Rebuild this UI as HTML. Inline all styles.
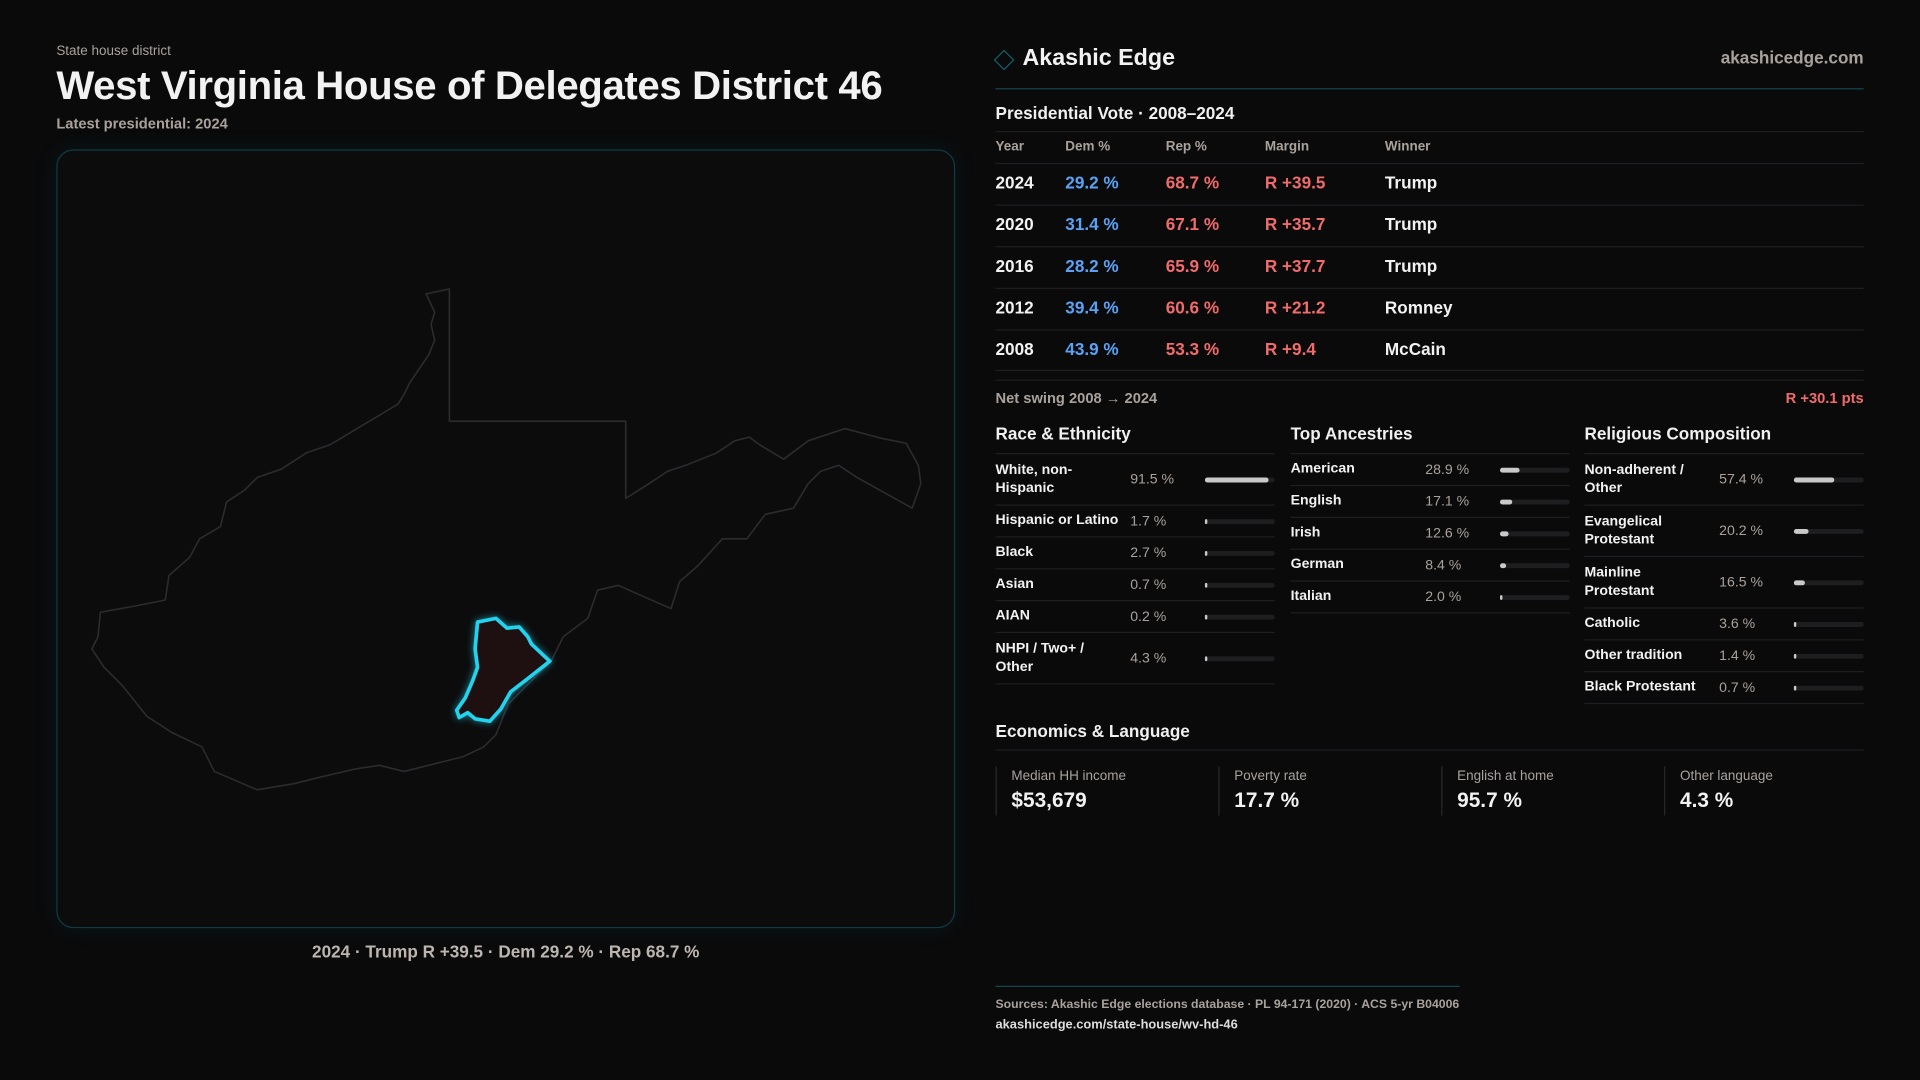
<!DOCTYPE html>
<html><head><meta charset="utf-8"><style>
html,body{margin:0;padding:0;background:#0a0a0b;overflow:hidden}
#root{position:absolute;left:0;top:0;width:1568px;height:882px;transform:scale(1.2244898);transform-origin:0 0;font-family:"Liberation Sans",sans-serif;color:#f2f2f2;background:#0a0a0b}
.abs{position:absolute}
.g{color:#a9a29c}
.row{position:absolute;left:813px;width:709px;height:34px;border-top:1px solid #1f1f21;font-size:14px;font-weight:bold}
.row span{position:absolute;top:7px}
.sec{position:absolute;font-size:14px;font-weight:bold;color:#f0f0f0}
.col{position:absolute;width:228px}
.dr{position:relative;border-bottom:1px solid #1f1f21;font-size:11.5px;font-weight:bold;display:flex;align-items:center}
.dr .lb{width:104px;line-height:15px;padding:0}
.dr .vl{position:absolute;left:110px;top:50%;transform:translateY(-50%);color:#a9a29c;font-weight:normal}
.dr .tr{position:absolute;left:171px;top:50%;margin-top:-2px;width:57px;height:4px;border-radius:2px;background:#1e1e20}
.dr .fl{position:absolute;left:0;top:0;height:4px;border-radius:2px;background:#c9c9c9;min-width:1.5px}
.ec{position:absolute;top:626px;height:40px;border-left:1px solid #2a2a2c;padding-left:12px}
.ec .t{font-size:11px;color:#a9a29c;margin-top:2px}
.ec .v{font-size:17px;font-weight:bold;margin-top:4px}
</style></head><body>
<div id="root">
<div class="abs g" style="left:46px;top:36px;font-size:11px">State house district</div>
<div class="abs" style="left:46px;top:51px;font-size:32.8px;font-weight:bold;letter-spacing:-0.3px">West Virginia House of Delegates District 46</div>
<div class="abs g" style="left:46px;top:94px;font-size:12px;font-weight:bold">Latest presidential: 2024</div>

<div class="abs" style="left:46px;top:122px;width:732px;height:634px;border:1px solid #123a44;border-radius:14px;background:#0c0c0d;box-shadow:0 0 18px rgba(20,120,140,0.12)">
<svg width="734" height="636" style="position:absolute;left:-47px;top:-123px;overflow:visible" viewBox="0 0 734 636">
<polygon fill="none" stroke="#2c2c2e" stroke-width="1.3" stroke-linejoin="round" points="348,240 367,236 367,344 511,344 511,407 530,395 545,385 560,380 585,370 600,360 612,357 620,363 640,375 660,360 690,350 720,358 740,362 750,380 752,395 745,415 700,390 685,380 670,385 660,395 648,415 625,420 610,440 590,440 570,462 555,475 548,497 525,487 505,478 488,482 480,505 460,520 450,540 430,560 415,575 405,600 395,610 378,618 350,625 330,630 310,625 290,628 260,635 240,640 210,645 175,630 165,610 140,598 120,585 100,560 85,545 75,530 80,520 82,500 110,495 135,490 138,470 155,455 163,440 180,430 185,410 200,400 210,390 230,383 250,370 270,363 300,345 325,330 330,322 335,312 350,290 355,278 352,265 355,255"/>
<polygon fill="#1e0f10" stroke="#22d3ee" stroke-width="3" stroke-linejoin="round" style="filter:drop-shadow(0 0 3px rgba(34,211,238,0.6))" points="390,508 405,505 414,513 424,512 431,520 434,526 449,540 430,555 417,565 409,579 400,589 388,587 382,582 375,586 373,580 380,570 386,556 390,545 388,530"/>
</svg>
</div>
<div class="abs" style="left:46px;top:769px;width:734px;text-align:center;font-size:14px;font-weight:bold;color:#bdb6b0">2024 · Trump R +39.5 · Dem 29.2 % · Rep 68.7 %</div>

<div class="abs" style="left:814px;top:43px;width:10px;height:10px;border:1.5px solid #155f6a;transform:rotate(45deg)"></div>
<div class="abs" style="left:835px;top:37px;font-size:19px;font-weight:bold">Akashic Edge</div>
<div class="abs g" style="left:1300px;width:222px;text-align:right;top:39px;font-size:14px;font-weight:bold">akashicedge.com</div>
<div class="abs" style="left:813px;top:72px;width:709px;height:1px;background:#134650"></div>

<div class="sec" style="left:813px;top:84px">Presidential Vote · 2008–2024</div>
<div class="abs g" style="left:813px;top:107px;width:709px;height:26px;border-top:1px solid #1f1f21;font-size:11px;font-weight:bold">
<span class="abs" style="left:0;top:6px">Year</span><span class="abs" style="left:57px;top:6px">Dem %</span><span class="abs" style="left:139px;top:6px">Rep %</span><span class="abs" style="left:220px;top:6px">Margin</span><span class="abs" style="left:318px;top:6px">Winner</span></div>
<div id="vote"></div>
<div class="abs" style="left:813px;top:302px;width:709px;height:1px;background:#1f1f21"></div>
<div class="abs" style="left:813px;top:310px;width:709px;height:1px;background:#1f1f21"></div>
<div class="abs g" style="left:813px;top:318px;font-size:12px;font-weight:bold">Net swing 2008 → 2024</div>
<div class="abs" style="left:1400px;width:122px;text-align:right;top:318px;font-size:12px;font-weight:bold;color:#f06b6b">R +30.1 pts</div>

<div class="sec" style="left:813px;top:346px">Race &amp; Ethnicity</div>
<div class="sec" style="left:1054px;top:346px">Top Ancestries</div>
<div class="sec" style="left:1294px;top:346px">Religious Composition</div>
<div class="col" id="race" style="left:813px;top:370px;border-top:1px solid #1f1f21"></div>
<div class="col" id="anc" style="left:1054px;top:370px;border-top:1px solid #1f1f21"></div>
<div class="col" id="rel" style="left:1294px;top:370px;border-top:1px solid #1f1f21"></div>

<div class="sec" style="left:813px;top:589px">Economics &amp; Language</div>
<div class="abs" style="left:813px;top:612px;width:709px;height:1px;background:#1f1f21"></div>
<div class="ec" style="left:813px"><div class="t">Median HH income</div><div class="v">$53,679</div></div>
<div class="ec" style="left:995px"><div class="t">Poverty rate</div><div class="v">17.7 %</div></div>
<div class="ec" style="left:1177px"><div class="t">English at home</div><div class="v">95.7 %</div></div>
<div class="ec" style="left:1359px"><div class="t">Other language</div><div class="v">4.3 %</div></div>

<div class="abs" style="left:813px;top:805px;width:379px;height:1px;background:#134650"></div>
<div class="abs g" style="left:813px;top:815px;font-size:10px;font-weight:bold">Sources: Akashic Edge elections database · PL 94-171 (2020) · ACS 5-yr B04006</div>
<div class="abs" style="left:813px;top:831px;font-size:10.5px;font-weight:bold;color:#ddd">akashicedge.com/state-house/wv-hd-46</div>
</div>
<script>
const years=["2024","2020","2016","2012","2008"];
const demPct=[29.2,31.4,28.2,39.4,43.9];
const repPct=[68.7,67.1,65.9,60.6,53.3];
const winners=["Trump","Trump","Trump","Romney","McCain"];
const raceLabels=["White, non-<br>Hispanic","Hispanic or Latino","Black","Asian","AIAN","NHPI / Two+ /<br>Other"];
const raceVals=[91.5,1.7,2.7,0.7,0.2,4.3];
const ancLabels=["American","English","Irish","German","Italian"];
const ancVals=[28.9,17.1,12.6,8.4,2.0];
const relLabels=["Non-adherent /<br>Other","Evangelical<br>Protestant","Mainline<br>Protestant","Catholic","Other tradition","Black Protestant"];
const relVals=[57.4,20.2,16.5,3.6,1.4,0.7];

const vote=document.getElementById('vote');
years.forEach((y,i)=>{
  const r=document.createElement('div');
  r.className='row';
  r.style.top=(133+i*34)+'px';
  
  
  const m=repPct[i]-demPct[i];
  r.innerHTML='<span style="left:0">'+y+'</span><span style="left:57px;color:#5aa2f5">'+demPct[i].toFixed(1)+' %</span><span style="left:139px;color:#f06b6b">'+repPct[i].toFixed(1)+' %</span><span style="left:220px;color:#f06b6b">'+(m>=0?'R +':'D +')+Math.abs(m).toFixed(1)+'</span><span style="left:318px">'+winners[i]+'</span>';
  vote.appendChild(r);
});
function list(id,labels,vals,pfx){
  const c=document.getElementById(id);
  labels.forEach((l,i)=>{
    const d=document.createElement('div');
    d.className='dr';
    
    
    const two=l.indexOf('<br>')>=0;
    d.style.height=(two?41:25)+'px';
    d.innerHTML='<div class="lb">'+l+'</div><div class="vl">'+vals[i].toFixed(1)+' %</div><div class="tr"><div class="fl" style="width:'+(vals[i]/100*57)+'px"></div></div>';
    c.appendChild(d);
  });
}
list('race',raceLabels,raceVals,'race');
list('anc',ancLabels,ancVals,'ancestry');
list('rel',relLabels,relVals,'religion');
</script>
</body></html>
